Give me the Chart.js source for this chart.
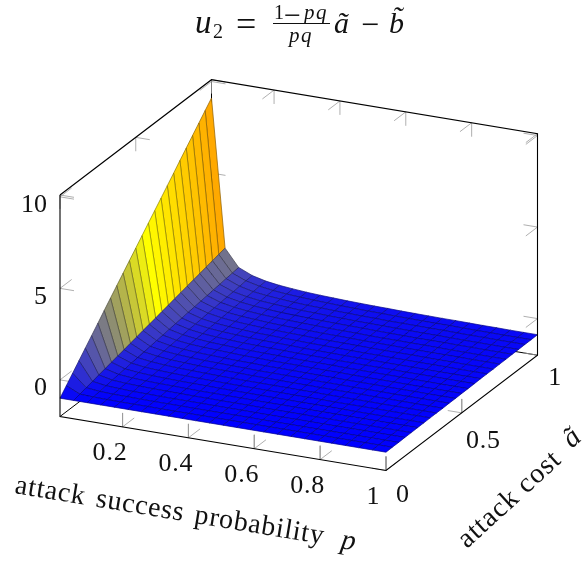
<!DOCTYPE html>
<html><head><meta charset="utf-8">
<style>html,body{margin:0;padding:0;background:#fff}#c{display:block}</style>
<script src="https://cdn.jsdelivr.net/npm/chart.js@4/dist/chart.umd.js"></script>
</head><body>
<canvas id="c" width="586" height="563"></canvas>
<script>
const pValues=[0.01,0.05125,0.0925,0.13375,0.175,0.21625,0.2575,0.29875,0.34,0.38125,0.4225,0.46375,0.505,0.54625,0.5875,0.62875,0.67,0.71125,0.7525,0.79375,0.835,0.87625,0.9175,0.95875,1];
const aValues=[0,0.0417,0.0833,0.125,0.1667,0.2083,0.25,0.2917,0.3333,0.375,0.4167,0.4583,0.5,0.5417,0.5833,0.625,0.6667,0.7083,0.75,0.7917,0.8333,0.875,0.9167,0.9583,1];
const zRows=[
[-1,-1,-1,-1,-1,-1,-1,-1,-1,-1,-1,-1,-1,-1,-1,-1,-1,-1,-1,-1,-1,-1,-1,-1,-1],
[-0.58,-0.92,-0.95,-0.97,-0.98,-0.98,-0.98,-0.99,-0.99,-0.99,-0.99,-0.99,-0.99,-0.99,-0.99,-0.99,-0.99,-0.99,-0.99,-0.99,-0.99,-0.99,-0.99,-0.99,-0.99],
[-0.16,-0.83,-0.91,-0.94,-0.95,-0.96,-0.97,-0.97,-0.97,-0.98,-0.98,-0.98,-0.98,-0.98,-0.99,-0.99,-0.99,-0.99,-0.99,-0.99,-0.99,-0.99,-0.99,-0.99,-0.99],
[0.26,-0.75,-0.86,-0.90,-0.93,-0.94,-0.95,-0.96,-0.96,-0.96,-0.97,-0.97,-0.97,-0.98,-0.98,-0.98,-0.98,-0.98,-0.98,-0.98,-0.98,-0.98,-0.98,-0.98,-0.98],
[0.68,-0.66,-0.82,-0.87,-0.90,-0.92,-0.93,-0.94,-0.95,-0.95,-0.96,-0.96,-0.96,-0.97,-0.97,-0.97,-0.97,-0.98,-0.98,-0.98,-0.98,-0.98,-0.98,-0.98,-0.98],
[1.10,-0.58,-0.77,-0.84,-0.88,-0.90,-0.91,-0.93,-0.94,-0.94,-0.95,-0.95,-0.96,-0.96,-0.96,-0.96,-0.97,-0.97,-0.97,-0.97,-0.97,-0.97,-0.97,-0.97,-0.97],
[1.52,-0.49,-0.73,-0.81,-0.85,-0.88,-0.90,-0.91,-0.92,-0.93,-0.94,-0.94,-0.95,-0.95,-0.95,-0.96,-0.96,-0.96,-0.96,-0.97,-0.97,-0.97,-0.97,-0.97,-0.97],
[1.95,-0.41,-0.68,-0.78,-0.83,-0.86,-0.88,-0.90,-0.91,-0.92,-0.93,-0.93,-0.94,-0.94,-0.95,-0.95,-0.95,-0.96,-0.96,-0.96,-0.96,-0.96,-0.96,-0.96,-0.96],
[2.37,-0.33,-0.64,-0.74,-0.80,-0.84,-0.86,-0.88,-0.90,-0.91,-0.92,-0.92,-0.93,-0.93,-0.94,-0.94,-0.95,-0.95,-0.95,-0.95,-0.96,-0.96,-0.96,-0.96,-0.96],
[2.79,-0.24,-0.59,-0.71,-0.78,-0.82,-0.85,-0.87,-0.88,-0.89,-0.91,-0.91,-0.92,-0.93,-0.93,-0.94,-0.94,-0.94,-0.94,-0.95,-0.95,-0.95,-0.96,-0.96,-0.96],
[3.21,-0.16,-0.55,-0.68,-0.75,-0.80,-0.83,-0.85,-0.87,-0.88,-0.90,-0.90,-0.91,-0.92,-0.93,-0.93,-0.93,-0.94,-0.94,-0.94,-0.95,-0.95,-0.95,-0.95,-0.95],
[3.63,-0.07,-0.50,-0.65,-0.73,-0.78,-0.81,-0.84,-0.86,-0.87,-0.89,-0.89,-0.90,-0.91,-0.92,-0.92,-0.93,-0.93,-0.93,-0.94,-0.94,-0.94,-0.95,-0.95,-0.95],
[4.05,0.01,-0.46,-0.62,-0.71,-0.76,-0.79,-0.82,-0.85,-0.86,-0.88,-0.88,-0.89,-0.90,-0.91,-0.91,-0.92,-0.93,-0.93,-0.93,-0.94,-0.94,-0.94,-0.94,-0.94],
[4.47,0.09,-0.41,-0.58,-0.68,-0.74,-0.78,-0.81,-0.83,-0.85,-0.86,-0.88,-0.89,-0.89,-0.90,-0.91,-0.91,-0.92,-0.92,-0.92,-0.93,-0.93,-0.94,-0.94,-0.94],
[4.89,0.18,-0.36,-0.55,-0.66,-0.72,-0.76,-0.80,-0.82,-0.84,-0.85,-0.87,-0.88,-0.88,-0.90,-0.90,-0.91,-0.91,-0.91,-0.92,-0.92,-0.92,-0.93,-0.93,-0.93],
[5.31,0.26,-0.32,-0.52,-0.63,-0.70,-0.74,-0.78,-0.81,-0.82,-0.84,-0.86,-0.87,-0.88,-0.89,-0.89,-0.90,-0.91,-0.91,-0.91,-0.92,-0.92,-0.92,-0.92,-0.92],
[5.73,0.35,-0.27,-0.49,-0.61,-0.68,-0.73,-0.77,-0.79,-0.81,-0.83,-0.85,-0.86,-0.87,-0.88,-0.89,-0.89,-0.90,-0.90,-0.91,-0.91,-0.91,-0.92,-0.92,-0.92],
[6.15,0.43,-0.23,-0.45,-0.58,-0.66,-0.71,-0.75,-0.78,-0.80,-0.82,-0.84,-0.85,-0.86,-0.87,-0.88,-0.89,-0.89,-0.89,-0.90,-0.91,-0.91,-0.92,-0.92,-0.92],
[6.57,0.52,-0.18,-0.42,-0.56,-0.64,-0.69,-0.74,-0.77,-0.79,-0.81,-0.83,-0.84,-0.85,-0.87,-0.87,-0.88,-0.89,-0.89,-0.90,-0.90,-0.90,-0.91,-0.91,-0.91],
[7.00,0.60,-0.14,-0.39,-0.53,-0.62,-0.68,-0.72,-0.75,-0.78,-0.80,-0.82,-0.83,-0.84,-0.86,-0.87,-0.87,-0.88,-0.88,-0.89,-0.90,-0.90,-0.91,-0.91,-0.91],
[7.42,0.68,-0.09,-0.36,-0.51,-0.60,-0.66,-0.71,-0.74,-0.77,-0.79,-0.81,-0.82,-0.83,-0.85,-0.86,-0.87,-0.88,-0.88,-0.88,-0.89,-0.89,-0.90,-0.90,-0.90],
[7.84,0.77,-0.05,-0.33,-0.48,-0.58,-0.64,-0.69,-0.73,-0.75,-0.78,-0.80,-0.82,-0.83,-0.84,-0.85,-0.86,-0.87,-0.87,-0.88,-0.89,-0.89,-0.90,-0.90,-0.90],
[8.26,0.85,0,-0.29,-0.46,-0.56,-0.62,-0.68,-0.72,-0.74,-0.77,-0.79,-0.81,-0.82,-0.84,-0.84,-0.85,-0.86,-0.86,-0.87,-0.88,-0.88,-0.89,-0.89,-0.89],
[8.68,0.94,0.04,-0.26,-0.43,-0.54,-0.61,-0.66,-0.70,-0.73,-0.76,-0.78,-0.80,-0.81,-0.83,-0.84,-0.85,-0.86,-0.86,-0.87,-0.88,-0.88,-0.89,-0.89,-0.89],
[9.10,1.02,0.09,-0.23,-0.41,-0.52,-0.59,-0.65,-0.69,-0.72,-0.75,-0.77,-0.79,-0.80,-0.82,-0.83,-0.84,-0.85,-0.85,-0.86,-0.87,-0.87,-0.88,-0.88,-0.88]
];
const pTicks=[0.2,0.4,0.6,0.8,1];
const pTickLabels=['0.2','0.4','0.6','0.8','1'];
const aTicks=[0,0.5,1];
const aTickLabels=['0','0.5','1'];
const zTicks=[0,5,10];
const zTickLabels=['0','5','10'];

const P0=0.01,P1=1,A0=0,A1=1,Z0=-2,Z1=10.1;
const view={ox:60,oy:416.5,px:326,py:54,ax:151.5,ay:-115.3,zy:-221.5};
function project(p,a,z){
  const u=(p-P0)/(P1-P0),v=(a-A0)/(A1-A0),w=(z-Z0)/(Z1-Z0);
  return {x:view.ox+u*view.px+v*view.ax,y:view.oy+u*view.py+v*view.ay+w*view.zy};
}
function mix(c1,c2,t){return c1.map((v,i)=>v+(c2[i]-v)*t);}
const BLUE=[0,0,255],YELLOW=[255,255,0],ORANGE=[255,165,0];
const META_BLUE=-1,META_YELLOW=2.4,META_ORANGE=5.06;
function colourOf(m){
  if(m<=META_YELLOW)return mix(BLUE,YELLOW,Math.max(0,(m-META_BLUE)/(META_YELLOW-META_BLUE)));
  return mix(YELLOW,ORANGE,Math.min(1,(m-META_YELLOW)/(META_ORANGE-META_YELLOW)));
}
const css=c=>`rgb(${c.map(v=>Math.round(v)).join(',')})`;
const lineSet=(pts,color,width)=>({data:pts,showLine:true,fill:false,borderColor:color,borderWidth:width,pointRadius:0,tension:0});

const painted=[];
const TICK='#9a9a9a',TW=0.8,DP=0.0425,DA=0.077,DZ=0.76;
function tick(p,a,z,d1,d2){
  painted.push(lineSet([project(p+d1[0],a+d1[1],z+d1[2]),project(p,a,z),project(p+d2[0],a+d2[1],z+d2[2])],TICK,TW));
}
painted.push(lineSet([project(P0,A1,Z1),project(P0,A1,Z0)],'#000',1));
painted.push(lineSet([project(P0,A0,Z0),project(P0,A1,Z0),project(P1,A1,Z0)],'#000',1));
pTicks.forEach(p=>{tick(p,A0,Z0,[0,0,DZ],[0,DA,0]);tick(p,A1,Z1,[0,0,-DZ],[0,-DA,0]);});
aTicks.forEach(a=>{tick(P0,a,Z1,[0,0,-DZ],[DP,0,0]);tick(P1,a,Z0,[0,0,DZ],[-DP,0,0]);});
zTicks.forEach(z=>{tick(P0,A0,z,[DP,0,0],[0,DA,0]);tick(P1,A1,z,[-DP,0,0],[0,-DA,0]);tick(P0,A1,z,[DP,0,0],[0,-DA,0]);});
for(let j=0;j<pValues.length-1;j++){
  for(let i=aValues.length-2;i>=0;i--){
    const zs=[zRows[i][j],zRows[i][j+1],zRows[i+1][j+1],zRows[i+1][j]];
    const mean=(zs[0]+zs[1]+zs[2]+zs[3])/4;
    const col=colourOf(mean);
    painted.push({
      data:[project(pValues[j],aValues[i],zs[0]),project(pValues[j+1],aValues[i],zs[1]),project(pValues[j+1],aValues[i+1],zs[2]),project(pValues[j],aValues[i+1],zs[3]),project(pValues[j],aValues[i],zs[0])],
      showLine:true,fill:'shape',backgroundColor:css(col),borderColor:css(mix(col,[0,0,0],0.45)),borderWidth:0.7,pointRadius:0,tension:0
    });
  }
}
painted.push(lineSet([project(P0,A0,Z1),project(P0,A0,Z0),project(P1,A0,Z0),project(P1,A1,Z0),project(P1,A1,Z1),project(P0,A1,Z1),project(P0,A0,Z1)],'#000',1.1));

const SERIF='"Liberation Serif"';
function txt(ctx,s,x,y,size,o){
  o=o||{};
  ctx.save();
  ctx.translate(x,y);
  if(o.rot)ctx.rotate(o.rot*Math.PI/180);
  ctx.font=(o.italic?'italic ':'')+size+'px '+SERIF;
  ctx.fillStyle='#111';
  ctx.textBaseline='alphabetic';
  ctx.textAlign=o.align||'left';
  if(o.spacing)ctx.letterSpacing=o.spacing+'px';
  if(o.wordSpacing)ctx.wordSpacing=o.wordSpacing+'px';
  ctx.fillText(s,0,0);
  ctx.restore();
}
const aLabelShift=[[17,31],[21.6,34.8],[17.7,29.7]];
const labels={id:'labels',afterDraw(chart){
  const ctx=chart.ctx,sx=chart.scales.x,sy=chart.scales.y;
  const at=(p,a,z)=>{const q=project(p,a,z);return {x:sx.getPixelForValue(q.x),y:sy.getPixelForValue(q.y)};};
  pTicks.forEach((p,i)=>{const q=at(p,A0,Z0);txt(ctx,pTickLabels[i],q.x-12.5,q.y+33.5,26,{align:'center',spacing:0.8});});
  aTicks.forEach((a,i)=>{const q=at(P1,a,Z0);txt(ctx,aTickLabels[i],q.x+aLabelShift[i][0],q.y+aLabelShift[i][1],26,{align:'center',spacing:0.8});});
  zTicks.forEach((z,i)=>{const q=at(P0,A0,z);txt(ctx,zTickLabels[i],47,q.y+15.5,26,{align:'right'});});
  txt(ctx,'attack success probability',14,493,28,{rot:9.4,spacing:0.75,wordSpacing:3});
  txt(ctx,'p',340,548,29,{rot:9.4,italic:true});
  txt(ctx,'attack cost',467,549,28,{rot:-42.5,spacing:1});
  txt(ctx,'ã',572,449,29,{rot:-42.5,italic:true});
  txt(ctx,'u',195,33,33,{italic:true});
  txt(ctx,'2',213,38,20);
  txt(ctx,'=',236,36,36);
  txt(ctx,'1',274,19,20);
  txt(ctx,'−',284,25,30);
  txt(ctx,'p',304,19,21,{italic:true});
  txt(ctx,'q',316,19,21,{italic:true});
  ctx.fillStyle='#111';ctx.fillRect(273,23,57,1);
  txt(ctx,'p',289,42,21,{italic:true});
  txt(ctx,'q',301,42,21,{italic:true});
  txt(ctx,'ã',334,33,30,{italic:true});
  txt(ctx,'−',361,35,32);
  txt(ctx,'b\u0303',389,33,30,{italic:true});
}};
new Chart(document.getElementById('c'),{
  type:'scatter',
  data:{datasets:painted.slice().reverse()},
  plugins:[labels],
  options:{
    responsive:false,animation:false,events:[],
    layout:{padding:0},
    plugins:{legend:{display:false},title:{display:false},tooltip:{enabled:false}},
    scales:{
      x:{type:'linear',display:false,min:0,max:586},
      y:{type:'linear',display:false,min:0,max:563,reverse:true}
    }
  }
});
</script>
</body></html>
